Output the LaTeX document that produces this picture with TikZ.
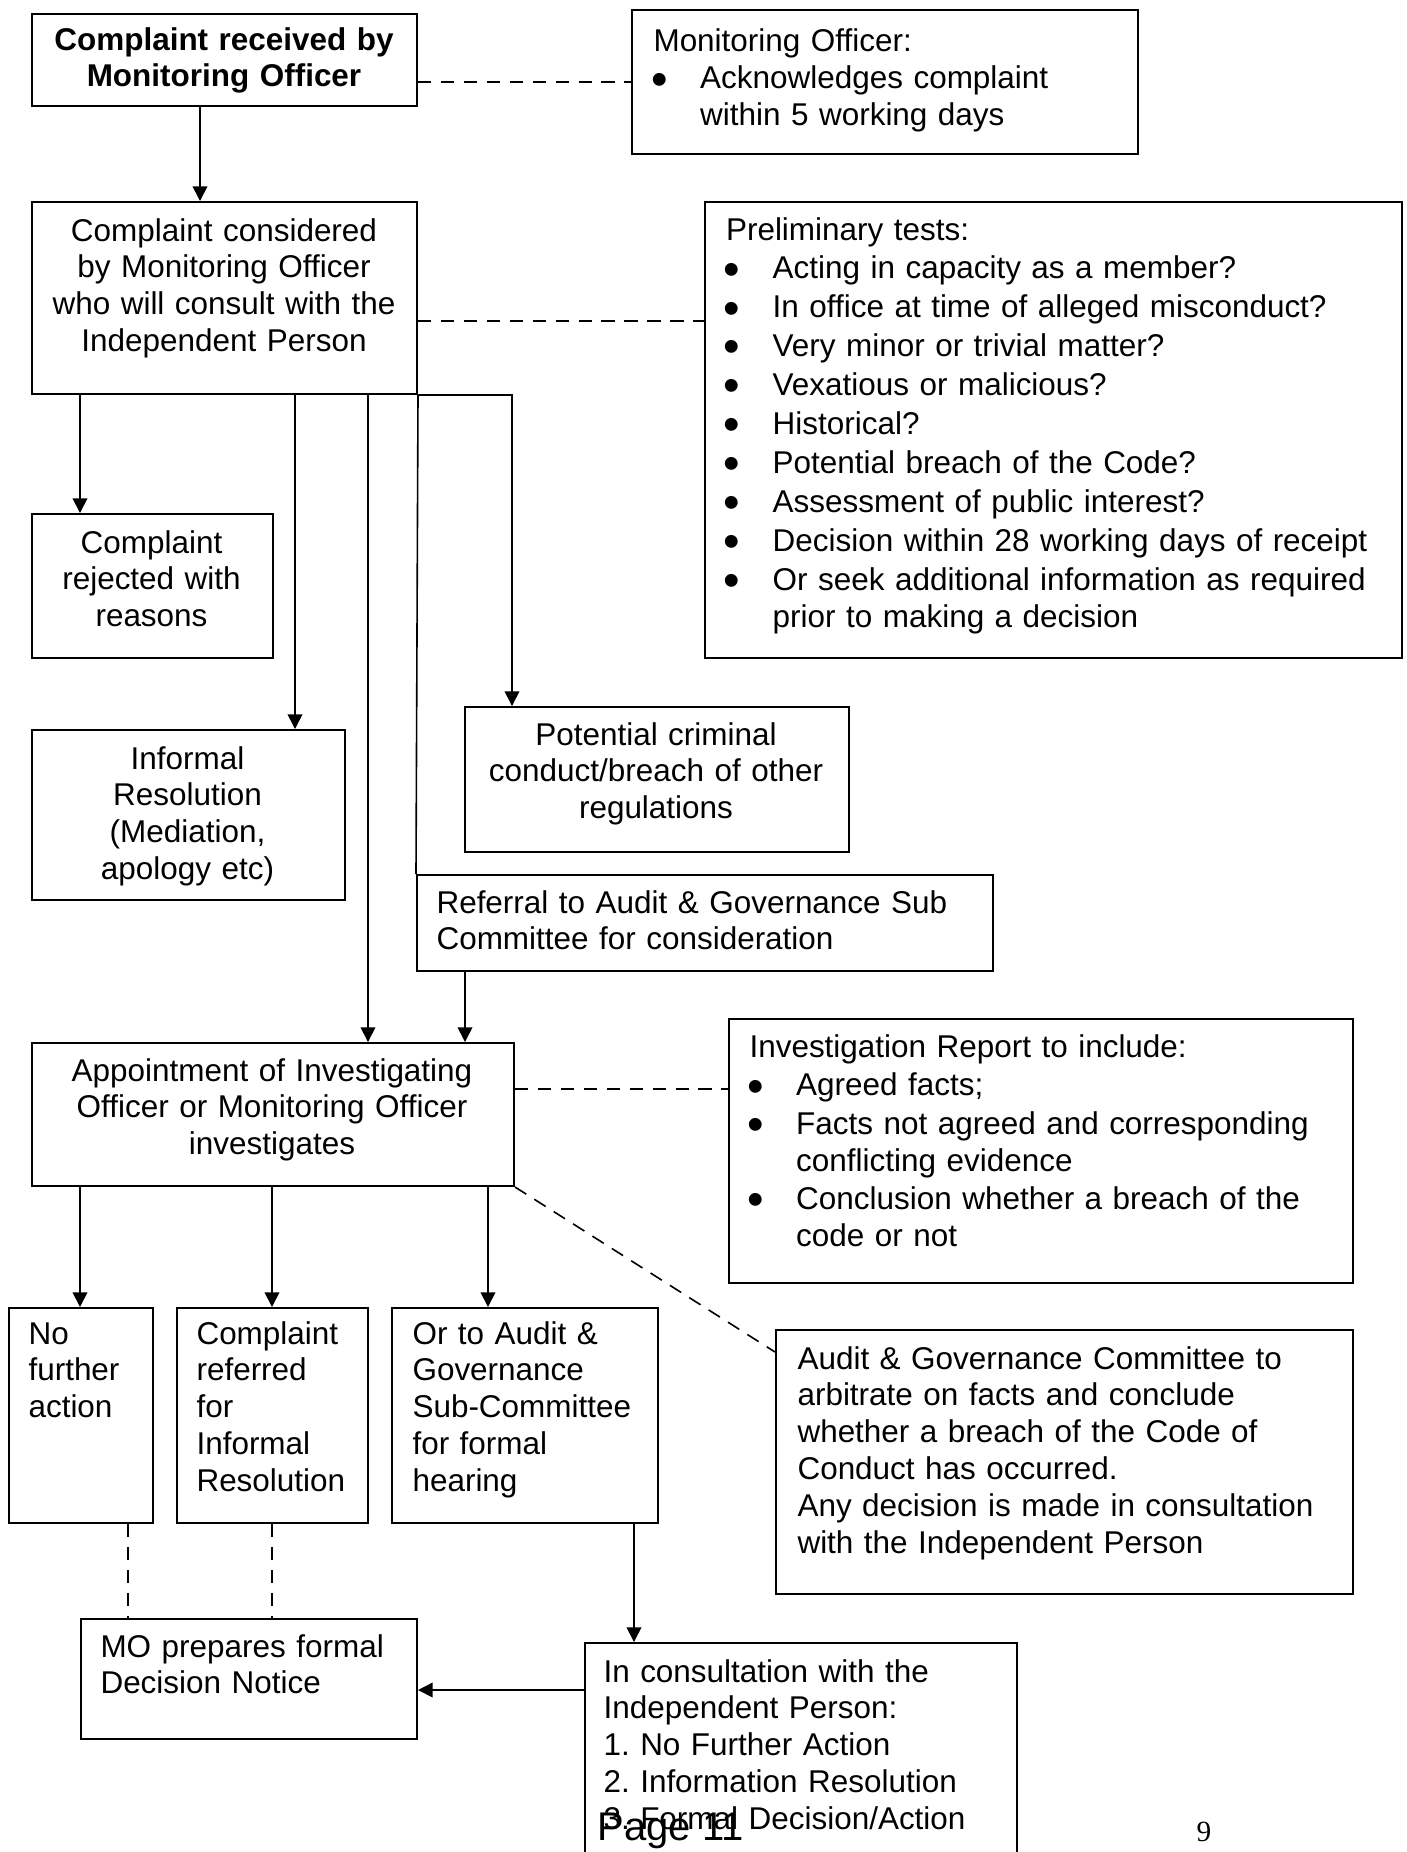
\documentclass[tikz,border=0pt]{standalone}
\usepackage{graphicx}
\usepackage{fontspec}
\setmainfont{Liberation Sans}
\newfontfamily\pagenumfont{Liberation Serif}
\usetikzlibrary{arrows.meta,calc}

% bullet for the lists in the side boxes
\newcommand{\bul}{\makebox[17.5pt][l]{\hspace{-0.9pt}\raisebox{-2.3pt}{\scalebox{1.5}{\textbullet}}}}
\newcommand{\bulcont}{\hspace*{17.5pt}}

\begin{document}
\frenchspacing
\begin{tikzpicture}[x=0.375pt, y=-0.375pt,
					flowbox/.style={rectangle,
					draw=black,
					line width=0.75pt,
					anchor=north west,
					inner sep=0pt},
					boxsize/.style 2 args={minimum width=#1*0.375pt,
					minimum height=#2*0.375pt},
					flowtext/.style={inner sep=0pt,
					font=\fontsize{11.8pt}{13.8pt}\selectfont},
					midtext/.style={flowtext, anchor=base, align=center},
					boldtext/.style={midtext, font=\fontsize{11.8pt}{13.8pt}\selectfont\bfseries},
					lefttext/.style={flowtext, anchor=base west, align=left},
					flowline/.style={line width=0.6pt},
					flowarrow/.style={line width=0.6pt, -{Triangle[length=5.5pt,width=5.5pt]}},
					dashlink/.style={line width=0.6pt, dash pattern=on 5pt off 3.6pt}
					]

\useasboundingbox (0,0) rectangle (1407,1852);
\clip (0,0) rectangle (1407,1852);

%boxes
\node[flowbox, boxsize={385}{92}]  (recv) at (31,13) {};
\node[flowbox, boxsize={506}{144}] (ackn) at (631,9) {};
\node[flowbox, boxsize={385}{192}] (considered) at (31,201) {};
\node[flowbox, boxsize={697}{456}] (prelim) at (704,201) {};
\node[flowbox, boxsize={241}{144}] (rejected) at (31,513) {};
\node[flowbox, boxsize={313}{170}] (informal) at (31,729) {};
\node[flowbox, boxsize={384}{145}] (criminal) at (464,706) {};
\node[flowbox, boxsize={576}{96}]  (referral) at (416,874) {};
\node[flowbox, boxsize={482}{143}] (appoint) at (31,1042) {};
\node[flowbox, boxsize={624}{264}] (report) at (728,1018) {};
\node[flowbox, boxsize={144}{215}] (nofurther) at (8,1307) {};
\node[flowbox, boxsize={191}{215}] (referred) at (176,1307) {};
\node[flowbox, boxsize={266}{215}] (hearing) at (391,1307) {};
\node[flowbox, boxsize={577}{264}] (arbitrate) at (775,1329) {};
\node[flowbox, boxsize={336}{120}] (notice) at (80,1618) {};
\node[flowbox, boxsize={432}{280}] (consult) at (584,1642) {};

%texts
\node[boldtext, text width=144pt] (recvtext) at (224,50) {Complaint received by\\Monitoring Officer};
\node[lefttext, text width=180pt] (ackntext) at (653,51) {Monitoring Officer:\\[0.4pt]
	\bul Acknowledges complaint\\\bulcont within 5 working days};
\node[midtext, text width=144pt] (consideredtext) at (224,241) {Complaint considered\\by Monitoring Officer\\who will consult with the\\Independent Person};
\node[lefttext, text width=258pt] (prelimtext) at (725.5,240) {Preliminary tests:\\[0.8pt]
	\bul Acting in capacity as a member?\\[0.8pt]
	\bul In office at time of alleged misconduct?\\[0.8pt]
	\bul Very minor or trivial matter?\\[0.8pt]
	\bul Vexatious or malicious?\\[0.8pt]
	\bul Historical?\\[0.8pt]
	\bul Potential breach of the Code?\\[0.8pt]
	\bul Assessment of public interest?\\[0.8pt]
	\bul Decision within 28 working days of receipt\\[0.8pt]
	\bul Or seek additional information as required\\
	\bulcont prior to making a decision};
\node[midtext, text width=90pt] (rejectedtext) at (151.5,553) {Complaint\\rejected with\\reasons};
\node[midtext, text width=117pt] (informaltext) at (187.5,769) {Informal\\Resolution\\(Mediation,\\apology etc)};
\node[midtext, text width=144pt] (criminaltext) at (656,745) {Potential criminal\\conduct/breach of other\\regulations};
\node[lefttext, text width=210pt] (referraltext) at (436,913) {Referral to Audit \& Governance Sub\\Committee for consideration};
\node[midtext, text width=180pt] (appointtext) at (272,1081) {Appointment of Investigating\\Officer or Monitoring Officer\\investigates};
\node[lefttext, text width=228pt] (reporttext) at (749,1057) {Investigation Report to include:\\[0.8pt]
	\bul Agreed facts;\\[0.6pt]
	\bul Facts not agreed and corresponding\\
	\bulcont conflicting evidence\\[0.6pt]
	\bul Conclusion whether a breach of the\\
	\bulcont code or not};
\node[lefttext, text width=50pt] (nofurthertext) at (28,1344) {No\\further\\action};
\node[lefttext, text width=70pt] (referredtext) at (196,1344) {Complaint\\referred\\for\\Informal\\Resolution};
\node[lefttext, text width=95pt] (hearingtext) at (412,1344) {Or to Audit \&\\Governance\\Sub-Committee\\for formal\\hearing};
\node[lefttext, text width=210pt] (arbitratetext) at (797,1369) {Audit \& Governance Committee to\\arbitrate on facts and conclude\\whether a breach of the Code of\\Conduct has occurred.\\Any decision is made in consultation\\with the Independent Person};
\node[lefttext, text width=120pt] (noticetext) at (100,1657) {MO prepares formal\\Decision Notice};
\node[lefttext, text width=155pt] (consulttext) at (603,1682) {In consultation with the\\Independent Person:\\1. No Further Action\\2. Information Resolution\\3. Formal Decision/Action};

%page footer
\node[anchor=base west, inner sep=0pt, font=\fontsize{15pt}{18pt}\selectfont] (pagelabel) at (597,1840) {Page 11};
\node[anchor=base west, inner sep=0pt, font=\pagenumfont\fontsize{11pt}{13pt}\selectfont] (pagenum) at (1196,1841) {9};

%paths from the complaint
\draw[flowarrow] ($(recv.south west)+(169,0)$) -- ($(considered.north west)+(169,0)$);
\coordinate (recvdash) at ($(recv.north east)+(0,69)$);
\draw[dashlink] (recvdash) -- (recvdash -| ackn.west);
\coordinate (considereddash) at ($(considered.north east)+(0,120)$);
\draw[dashlink] (considereddash) -- (considereddash -| prelim.west);

%branches of the consideration
\coordinate (branchA) at ($(considered.south west)+(49,0)$);
\coordinate (branchB) at ($(considered.south west)+(264,0)$);
\coordinate (branchC) at ($(considered.south west)+(337,0)$);
\coordinate (branchD) at ($(criminal.north west)+(48,0)$);
\draw[flowarrow] (branchA) -- (branchA |- rejected.north);
\draw[flowarrow] (branchB) -- (branchB |- informal.north);
\draw[flowarrow] (branchC) -- (branchC |- appoint.north);
\draw[flowline] (considered.south east) -- (referral.north west);
\draw[flowarrow] (considered.south east) -| (branchD);

%referral to investigation
\coordinate (referralout) at ($(referral.south west)+(49,0)$);
\draw[flowarrow] (referralout) -- (referralout |- appoint.north);

%investigation paths
\coordinate (appointdash) at ($(appoint.north east)+(0,47)$);
\draw[dashlink] (appointdash) -- (appointdash -| report.west);
\coordinate (arbitratein) at ($(arbitrate.north west)+(0,23)$);
\draw[dashlink] (appoint.south east) -- (arbitratein);
\coordinate (outcomeA) at ($(appoint.south west)+(49,0)$);
\coordinate (outcomeB) at ($(appoint.south west)+(241,0)$);
\coordinate (outcomeC) at ($(appoint.south west)+(457,0)$);
\draw[flowarrow] (outcomeA) -- (outcomeA |- nofurther.north);
\draw[flowarrow] (outcomeB) -- (outcomeB |- referred.north);
\draw[flowarrow] (outcomeC) -- (outcomeC |- hearing.north);

%decision notice
\coordinate (noticeA) at ($(nofurther.south west)+(120,0)$);
\coordinate (noticeB) at ($(referred.south west)+(96,0)$);
\draw[dashlink] (noticeA) -- (noticeA |- notice.north);
\draw[dashlink] (noticeB) -- (noticeB |- notice.north);
\coordinate (hearingout) at ($(hearing.south west)+(243,0)$);
\draw[flowarrow] (hearingout) -- (hearingout |- consult.north);
\coordinate (consultout) at ($(consult.north west)+(0,48)$);
\draw[flowarrow] (consultout) -- (consultout -| notice.east);
\end{tikzpicture}
\end{document}
